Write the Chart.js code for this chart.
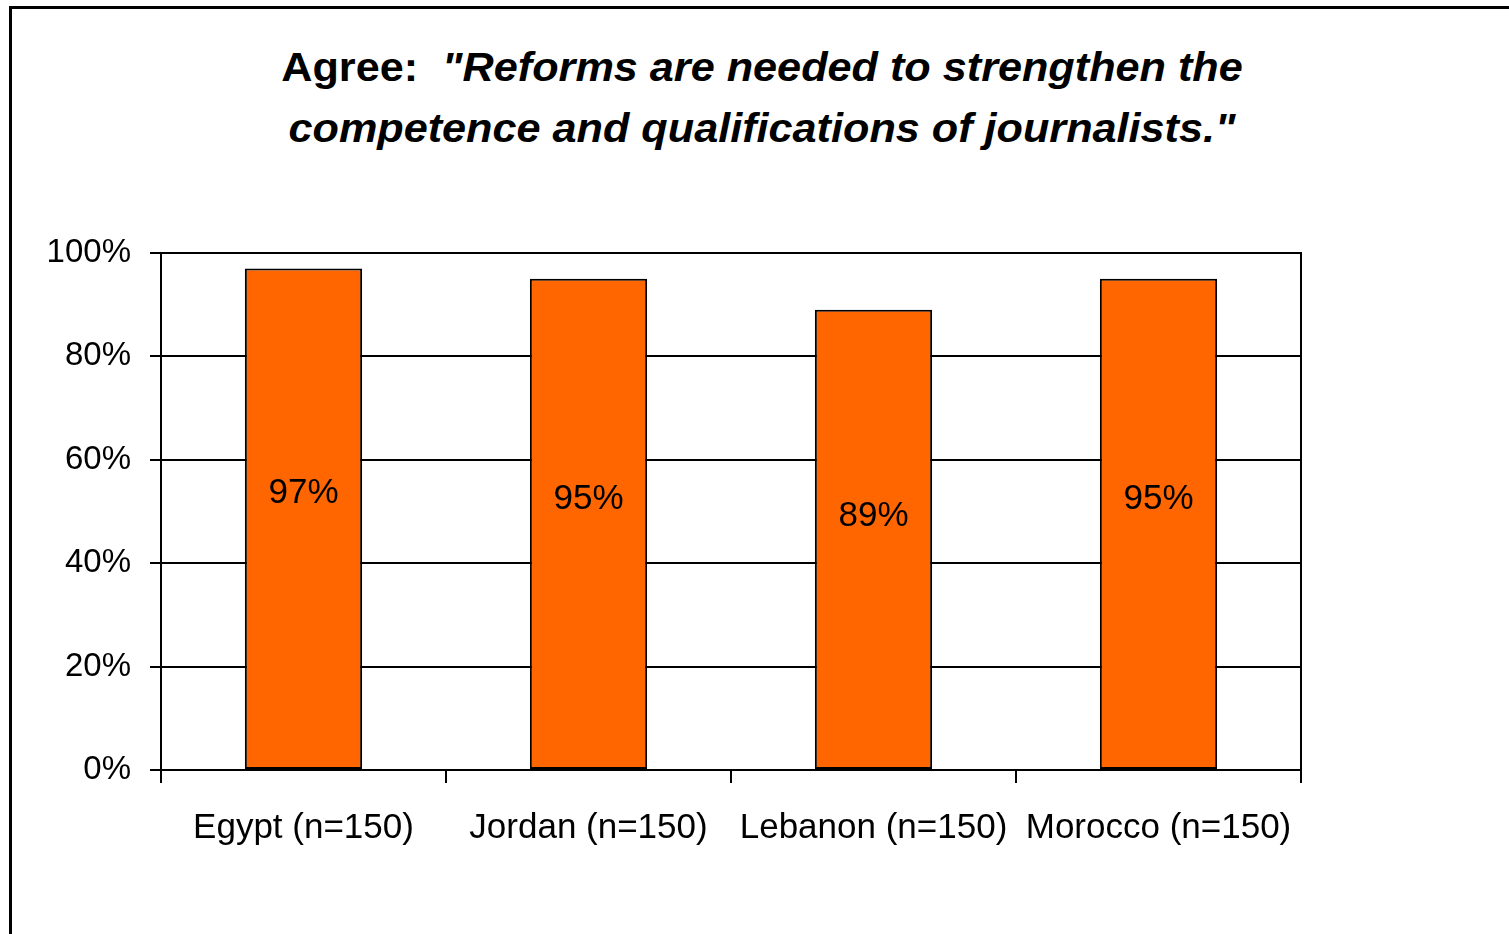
<!DOCTYPE html>
<html lang="en">
<head>
    <meta charset="UTF-8">
    <title>Reforms - Competence of Journalists</title>
    <style>
        body {
            margin: 0;
            padding: 0;
            background: #fff;
            overflow: hidden;
            font-family: 'Liberation Sans', Arial, sans-serif;
        }

        /* outer frame of the chart, cut off at the right and bottom */
        .frame {
            position: absolute;
            left: 9px;
            top: 6px;
            width: 1520px;
            height: 960px;
            border-top: 3px solid #000;
            border-left: 3px solid #000;
        }

        .chart-title {
            position: absolute;
            left: 0;
            top: 37px;
            width: 1524px;
            text-align: center;
            font-size: 40px;
            font-weight: bold;
            line-height: 61px;
            color: #000;
            transform: scaleX(1.08);
            transform-origin: 762px 0;
        }

        .chart-title em {
            font-style: italic;
        }

        .chart-wrap {
            position: absolute;
            left: 0;
            top: 0;
            width: 1509px;
            height: 934px;
        }
    </style>
    <script src="https://cdn.jsdelivr.net/npm/chart.js"></script>
</head>
<body>
    <div class="frame"></div>
    <div class="chart-title">
        Agree:&nbsp; <em>"Reforms are needed to strengthen the</em><br>
        <em>competence and qualifications of journalists."</em>
    </div>
    <div class="chart-wrap">
        <canvas id="agreeChart"></canvas>
    </div>

    <script>
    const countries = ["Egypt (n=150)", "Jordan (n=150)", "Lebanon (n=150)", "Morocco (n=150)"];
    const agreePct = [97, 95, 89, 95];
    const yTicks = [0, 20, 40, 60, 80, 100];

    // black frame round the plot area (left and bottom come from the axis borders)
    const plotFrame = {
        id: "plotFrame",
        afterDraw(chart) {
            const { ctx, chartArea: a } = chart;
            ctx.save();
            ctx.strokeStyle = "#000";
            ctx.lineWidth = 2;
            ctx.beginPath();
            ctx.moveTo(a.left, a.top);
            ctx.lineTo(a.right, a.top);
            ctx.lineTo(a.right, a.bottom + 13);
            ctx.stroke();
            ctx.restore();
        }
    };

    // percentage written inside each bar
    const barValues = {
        id: "barValues",
        afterDatasetsDraw(chart) {
            const { ctx } = chart;
            const meta = chart.getDatasetMeta(0);
            ctx.save();
            ctx.font = "35px 'Liberation Sans', Arial, sans-serif";
            ctx.fillStyle = "#000";
            ctx.textAlign = "center";
            ctx.textBaseline = "middle";
            meta.data.forEach((bar, i) => {
                const y = bar.y + (bar.base - bar.y) * 0.45;
                ctx.fillText(agreePct[i] + "%", bar.x, y);
            });
            ctx.restore();
        }
    };

    new Chart(document.getElementById("agreeChart"), {
        type: "bar",
        data: {
            labels: countries,
            datasets: [{
                data: agreePct,
                backgroundColor: "#FF6600",
                borderColor: "#000",
                borderWidth: 2,
                borderSkipped: false,
                categoryPercentage: 1,
                barPercentage: 0.4115
            }]
        },
        options: {
            responsive: true,
            maintainAspectRatio: false,
            animation: false,
            layout: {
                padding: { left: 0, right: 208, top: 253, bottom: 64 }
            },
            plugins: {
                legend: { display: false },
                tooltip: { enabled: false }
            },
            scales: {
                x: {
                    grid: {
                        offset: true,
                        drawOnChartArea: false,
                        drawTicks: true,
                        tickLength: 13,
                        color: "#000",
                        lineWidth: 2
                    },
                    border: { display: true, color: "#000", width: 2 },
                    ticks: {
                        color: "#000",
                        padding: 24,
                        maxRotation: 0,
                        autoSkip: false,
                        font: { family: "'Liberation Sans', Arial, sans-serif", size: 35 }
                    },
                    afterFit(scale) { scale.height = 100; }
                },
                y: {
                    min: 0,
                    max: 100,
                    afterBuildTicks(scale) {
                        scale.ticks = yTicks.map(v => ({ value: v }));
                    },
                    grid: {
                        color: "#000",
                        lineWidth: 2,
                        tickLength: 11
                    },
                    border: { display: true, color: "#000", width: 2 },
                    ticks: {
                        color: "#000",
                        padding: 19,
                        callback: v => v + "%",
                        font: { family: "'Liberation Sans', Arial, sans-serif", size: 33 }
                    },
                    afterFit(scale) { scale.width = 161; }
                }
            }
        },
        plugins: [plotFrame, barValues]
    });
    </script>
</body>
</html>
